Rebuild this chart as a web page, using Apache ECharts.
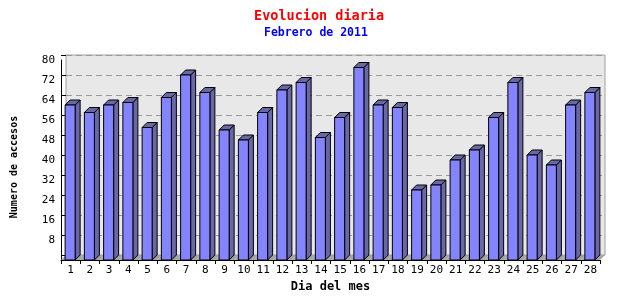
<!DOCTYPE html>
<html>
<head>
<meta charset="utf-8">
<script src="https://cdn.jsdelivr.net/npm/echarts@6/dist/echarts.min.js"></script>
<style>html,body{margin:0;padding:0;background:#fff;}#c{width:640px;height:300px;}</style>
</head>
<body>
<div id="c"></div>
<script>
const days = ['1','2','3','4','5','6','7','8','9','10','11','12','13','14','15','16','17','18','19','20','21','22','23','24','25','26','27','28'];
const accesos = [62,59,62,63,53,65,74,67,52,48,59,68,71,49,57,77,62,61,28,30,40,44,57,71,42,38,62,67];
const yTicks = {min:0, max:80, interval:8};
const titleText = 'Evolucion diaria';
const subtitleText = 'Febrero de 2011';
const xName = 'Dia del mes';
const yName = 'Numero de accesos';

const DEPTH = 5;
const mono = 'DejaVu Sans Mono';

function renderFloor(params, api){
  const idx = api.value(0);
  const base = api.coord([idx, 0]);
  const bw = api.size([1, 0])[0];
  const l = base[0] - bw/2, r = base[0] + bw/2, y = base[1];
  return {
    type:'polygon',
    shape:{points:[[l,y],[r,y],[r+DEPTH,y-DEPTH],[l+DEPTH,y-DEPTH]]},
    style:{fill:'#a4a4a4', stroke:null}
  };
}
function renderBar(params, api){
  const idx = api.value(0), v = api.value(1);
  const top = api.coord([idx, v]);
  const base = api.coord([idx, 0]);
  const bw = api.size([1, 0])[0];
  const fw = bw * 0.52;
  const l = top[0] - fw/2 - 0.5, r = l + fw;
  const t = top[1], b = base[1];
  const edge = {stroke:'#000', lineWidth:1};
  return {type:'group', children:[
    {type:'polygon', shape:{points:[[r,t],[r+DEPTH,t-DEPTH],[r+DEPTH,b-DEPTH],[r,b]]}, style:Object.assign({fill:'#6868a6'}, edge)},
    {type:'polygon', shape:{points:[[l,t],[l+DEPTH,t-DEPTH],[r+DEPTH,t-DEPTH],[r,t]]}, style:Object.assign({fill:'#6868a6'}, edge)},
    {type:'rect', shape:{x:l, y:t, width:fw, height:b-t}, style:Object.assign({fill:'#8484ff'}, edge)}
  ]};
}

const chart = echarts.init(document.getElementById('c'), null, {renderer:'canvas'});
chart.setOption({
  backgroundColor:'#fff',
  animation:false,
  title:[
    {text:titleText, left:249, top:4, textStyle:{color:'#ff0000', fontFamily:mono, fontWeight:'bold', fontSize:13.5}},
    {text:subtitleText, left:259, top:22, textStyle:{color:'#0000ff', fontFamily:mono, fontWeight:'bold', fontSize:11.5}}
  ],
  grid:[
    {left:61, top:60, width:539, height:200, show:false},
    {left:66, top:55, width:539, height:200, show:true, backgroundColor:'#e8e8e8', borderColor:'#a0a0a0', borderWidth:1}
  ],
  xAxis:[
    {gridIndex:0, type:'category', data:days, boundaryGap:true,
     axisLine:{lineStyle:{color:'#000'}}, axisTick:{show:true, length:4, lineStyle:{color:'#000'}},
     axisLabel:{color:'#000', fontFamily:mono, fontSize:11, margin:5},
     name:xName, nameLocation:'middle', nameGap:11,
     nameTextStyle:{color:'#000', fontFamily:mono, fontWeight:'bold', fontSize:12}},
    {gridIndex:1, type:'category', data:days, show:false}
  ],
  yAxis:[
    {gridIndex:0, type:'value', min:yTicks.min, max:yTicks.max, interval:yTicks.interval,
     axisLine:{show:true, lineStyle:{color:'#000'}}, axisTick:{show:false}, splitLine:{show:false},
     axisLabel:{color:'#000', fontFamily:mono, fontSize:11, margin:6, padding:[4,0,0,0], formatter:v=> v===0?'':String(v)},
     name:yName, nameLocation:'middle', nameRotate:90, nameGap:42,
     nameTextStyle:{color:'#000', fontFamily:mono, fontWeight:'bold', fontSize:10, padding:[0,14,0,0]}},
    {gridIndex:1, type:'value', min:yTicks.min, max:yTicks.max, interval:yTicks.interval,
     axisLine:{show:false}, axisLabel:{show:false},
     axisTick:{show:true, length:5, lineStyle:{color:'#000'}},
     splitLine:{show:true, lineStyle:{color:'#999', type:[6,4], width:1}}}
  ],
  series:[
    {type:'custom', xAxisIndex:0, yAxisIndex:0, renderItem:renderFloor, data:accesos.map((v,i)=>[i,v]), z:1, silent:true},
    {type:'custom', xAxisIndex:0, yAxisIndex:0, renderItem:renderBar, data:accesos.map((v,i)=>[i,v]), z:3, silent:true}
  ]
});
</script>
</body>
</html>
